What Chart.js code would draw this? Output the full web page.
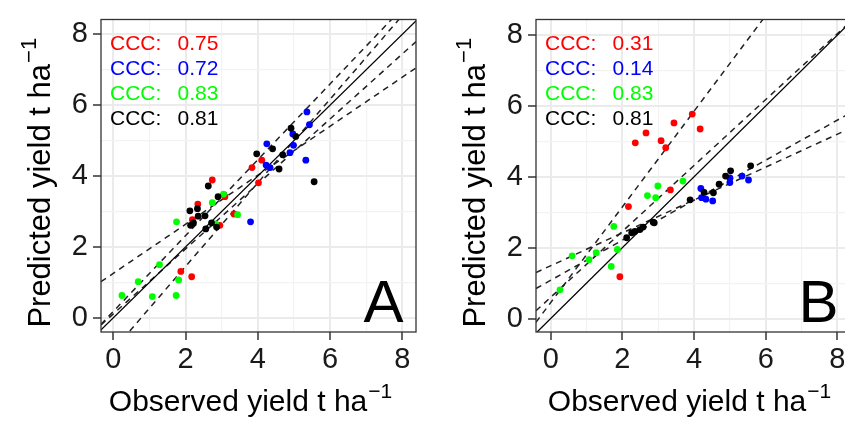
<!DOCTYPE html>
<html><head><meta charset="utf-8">
<script src="https://cdn.jsdelivr.net/npm/chart.js@4/dist/chart.umd.min.js"></script>
<style>
html,body{margin:0;padding:0;background:#fff;overflow:hidden;width:845px;height:421px;position:relative;}
.wrap{position:absolute;top:0;width:425px;height:421px;}
#wa{left:0px} #wb{left:435px}
</style></head><body>
<div class="wrap" id="wa"><canvas id="ca" width="425" height="421"></canvas></div>
<div class="wrap" id="wb"><canvas id="cb" width="425" height="421"></canvas></div>
<script>
// ---------- data ----------
const GROUP_COLORS = ['#FF0000', '#0000FF', '#00FF00', '#000000'];
const TICK_VALUES = [0, 1, 2, 3, 4, 5, 6, 7, 8];
const TICK_LABELS = ['0', '', '2', '', '4', '', '6', '', '8'];

// Panel A
const A_red_x   = [2.74, 2.34, 2.19, 3.09, 2.95, 3.34, 3.84, 4.11, 4.02, 1.87, 2.17];
const A_red_y   = [3.89, 3.21, 2.77, 3.42, 2.61, 2.93, 4.24, 4.45, 3.81, 1.31, 1.16];
const A_blue_x  = [5.36, 5.43, 4.25, 4.97, 4.99, 4.89, 4.23, 4.34, 5.33, 3.80];
const A_blue_y  = [5.81, 5.45, 4.91, 5.19, 4.87, 4.66, 4.31, 4.24, 4.45, 2.71];
const A_green_x = [0.24, 0.69, 1.08, 1.28, 1.74, 1.81, 1.75, 2.74, 3.05, 3.44, 2.83];
const A_green_y = [0.63, 1.02, 0.60, 1.50, 0.63, 1.07, 2.71, 3.25, 3.49, 2.91, 2.65];
const A_black_x = [2.63, 2.90, 2.12, 2.33, 2.35, 2.54, 2.14, 2.22, 2.56, 2.72, 2.86, 3.97, 4.41, 4.69, 4.59, 4.92, 5.05, 5.56];
const A_black_y = [3.72, 3.42, 3.02, 3.08, 2.87, 2.88, 2.61, 2.68, 2.51, 2.68, 2.56, 4.63, 4.77, 4.60, 4.20, 5.35, 5.12, 3.84];
const A_intercepts = [0.18, -0.91, 0.11, 1.255];
const A_slopes     = [1.07, 1.18, 0.917, 0.692];
const A_ccc = ['0.75', '0.72', '0.83', '0.81'];

// Panel B
const B_red_x   = [3.95, 3.44, 4.17, 2.66, 3.08, 2.36, 3.21, 3.34, 2.17, 1.93];
const B_red_y   = [5.77, 5.52, 5.35, 5.24, 5.02, 4.96, 4.82, 3.63, 3.16, 1.18];
const B_blue_x  = [5.34, 5.52, 5.00, 5.00, 4.19, 4.21, 4.33, 4.52];
const B_blue_y  = [4.02, 3.91, 3.97, 3.84, 3.67, 3.41, 3.37, 3.32];
const B_green_x = [3.69, 2.99, 2.70, 2.93, 1.76, 1.86, 1.27, 0.60, 1.07, 1.69, 0.26];
const B_green_y = [3.88, 3.74, 3.47, 3.41, 2.60, 1.95, 1.86, 1.77, 1.66, 1.47, 0.81];
const B_black_x = [5.58, 5.02, 4.88, 4.70, 4.54, 4.28, 3.89, 2.89, 2.86, 2.58, 2.49, 2.35, 2.26, 2.12];
const B_black_y = [4.31, 4.17, 4.02, 3.79, 3.55, 3.56, 3.35, 2.70, 2.72, 2.58, 2.51, 2.46, 2.42, 2.28];
const B_intercepts = [0.45, 1.49, 0.60, 1.08];
const B_slopes     = [1.35, 0.464, 0.93, 0.565];
const B_ccc = ['0.31', '0.14', '0.83', '0.81'];

const X_TITLE = 'Observed yield t ha';
const Y_TITLE = 'Predicted yield t ha';
const TITLE_SUP = '\u22121';

// ---------- drawing ----------
const FONT = '"Liberation Sans", Arial, Helvetica, sans-serif';

function drawSupText(ctx, text, sup, cx, cy, rotate, size) {
  ctx.save();
  ctx.translate(cx, cy);
  if (rotate) ctx.rotate(-Math.PI / 2);
  ctx.fillStyle = '#000';
  ctx.textBaseline = 'alphabetic';
  ctx.textAlign = 'left';
  ctx.font = size + 'px ' + FONT;
  const w1 = ctx.measureText(text).width;
  const ss = Math.round(size * 0.7);
  ctx.font = ss + 'px ' + FONT;
  const w2 = ctx.measureText(sup).width;
  const total = w1 + 1 + w2;
  const x0 = -total / 2;
  ctx.font = size + 'px ' + FONT;
  ctx.fillText(text, x0, 0);
  ctx.font = ss + 'px ' + FONT;
  ctx.fillText(sup, x0 + w1 + 1, -size * 0.45);
  ctx.restore();
}

const panelPlugin = {
  id: 'panelDecor',
  afterDatasetsDraw(chart) {
    const ctx = chart.ctx, a = chart.chartArea;
    ctx.save();
    ctx.strokeStyle = '#333333';
    ctx.lineWidth = 1.3;
    ctx.strokeRect(a.left, a.top, a.right - a.left, a.bottom - a.top);
    ctx.restore();
  },
  afterDraw(chart) {
    const ctx = chart.ctx, a = chart.chartArea;
    const o = chart.options.plugins.panelDecor;
    ctx.save();
    ctx.font = '21px ' + FONT;
    ctx.textBaseline = 'alphabetic';
    ctx.textAlign = 'left';
    o.ccc.forEach((v, i) => {
      ctx.fillStyle = GROUP_COLORS[i];
      const y = a.top + 30 + i * 25;
      ctx.fillText('CCC:', a.left + 9, y);
      ctx.fillText(v, a.left + 76.5, y);
    });
    ctx.fillStyle = '#000';
    ctx.font = '60px ' + FONT;
    ctx.textAlign = 'right';
    ctx.fillText(o.letter, a.right - 12.5, a.bottom - 10);
    ctx.restore();
    const cxm = (a.left + a.right) / 2 + o.xTitleShift, cym = (a.top + a.bottom) / 2 + 7;
    drawSupText(ctx, X_TITLE, TITLE_SUP, cxm, 411, false, 30);
    drawSupText(ctx, Y_TITLE, TITLE_SUP, 50, cym, true, 31);
  }
};

function axisOpts(min, max, isX) {
  return {
    type: 'linear', min: min, max: max,
    afterBuildTicks: (s) => { s.ticks = TICK_VALUES.map(v => ({ value: v })); },
    afterFit: (s) => { if (isX) s.height = 89; else s.width = 101; },
    border: { display: false },
    grid: {
      color: (c) => (c.tick && c.tick.value % 2 === 0) ? '#EBEBEB' : '#F3F3F3',
      lineWidth: (c) => (c.tick && c.tick.value % 2 === 0) ? 2 : 1.2,
      tickColor: (c) => (c.tick && c.tick.value % 2 === 0) ? '#333333' : 'rgba(0,0,0,0)',
      tickLength: 8,
      tickWidth: 1.5,
      drawTicks: true
    },
    ticks: {
      autoSkip: false, maxRotation: 0, minRotation: 0,
      padding: isX ? 5 : 5,
      color: '#1a1a1a',
      font: { family: FONT, size: 29, lineHeight: 1 },
      callback: (v) => TICK_LABELS[TICK_VALUES.indexOf(v)] ?? ''
    }
  };
}

function makePanel(id, P) {
  const datasets = [];
  P.xs.forEach((xs, i) => {
    datasets.push({
      type: 'scatter',
      data: xs.map((x, j) => ({ x: x, y: P.ys[i][j] })),
      backgroundColor: GROUP_COLORS[i], borderWidth: 0,
      pointRadius: 3.4, pointHoverRadius: 3.4, order: 4 - i
    });
  });
  const lo = Math.min(P.xlim[0], P.ylim[0]), hi = Math.max(P.xlim[1], P.ylim[1]);
  datasets.push({
    type: 'line', data: [{ x: lo, y: lo }, { x: hi, y: hi }],
    borderColor: '#000', borderWidth: 1.3, pointRadius: 0, fill: false, order: 8
  });
  P.intercepts.forEach((a, i) => {
    const b = P.slopes[i];
    datasets.push({
      type: 'line',
      data: [{ x: P.xlim[0], y: a + b * P.xlim[0] }, { x: P.xlim[1], y: a + b * P.xlim[1] }],
      borderColor: '#222', borderWidth: 1.5, borderDash: [6, 5],
      pointRadius: 0, fill: false, order: 9
    });
  });
  return new Chart(document.getElementById(id), {
    type: 'scatter',
    data: { datasets: datasets },
    options: {
      responsive: false, animation: false, devicePixelRatio: 1,
      layout: { padding: { top: 16, right: 9, left: 0, bottom: 0 } },
      scales: { x: axisOpts(P.xlim[0], P.xlim[1], true), y: axisOpts(P.ylim[0], P.ylim[1], false) },
      plugins: {
        legend: { display: false }, tooltip: { enabled: false },
        panelDecor: { ccc: P.ccc, letter: P.letter, xTitleShift: P.xTitleShift }
      },
      events: []
    },
    plugins: [panelPlugin]
  });
}

makePanel('ca', {
  xs: [A_red_x, A_blue_x, A_green_x, A_black_x],
  ys: [A_red_y, A_blue_y, A_green_y, A_black_y],
  intercepts: A_intercepts, slopes: A_slopes, ccc: A_ccc, letter: 'A',
  xlim: [-0.34, 8.38], ylim: [-0.40, 8.42], xTitleShift: -8
});
makePanel('cb', {
  xs: [B_red_x, B_blue_x, B_green_x, B_black_x],
  ys: [B_red_y, B_blue_y, B_green_y, B_black_y],
  intercepts: B_intercepts, slopes: B_slopes, ccc: B_ccc, letter: 'B',
  xlim: [-0.41, 8.38], ylim: [-0.38, 8.44], xTitleShift: -4
});
</script>
</body></html>
